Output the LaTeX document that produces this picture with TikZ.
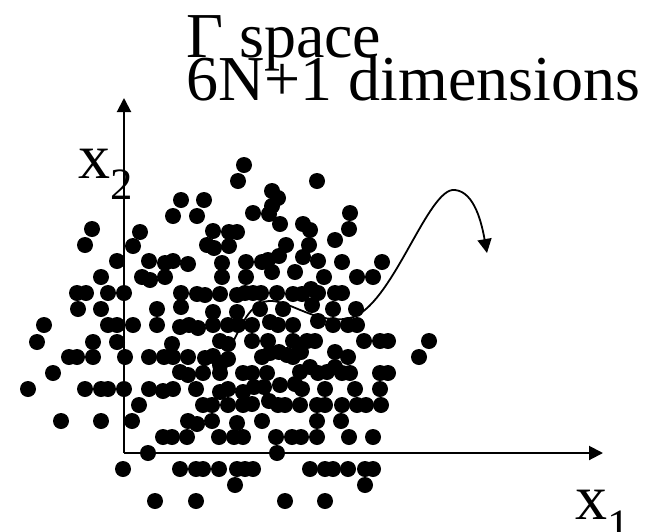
\documentclass[tikz,border=0pt]{standalone}
\usepackage{fontspec}
\setmainfont{Liberation Serif}
\usetikzlibrary{arrows.meta}

\begin{document}
\begin{tikzpicture}[
  x=1pt,y=-1pt,
  font=\fontsize{64}{64}\selectfont,
  particle/.style={fill=black},
  axis/.style={line width=2pt,-{Triangle[length=14pt,width=14pt]}},
  traj/.style={line width=1.8pt,-{Triangle[length=14pt,width=14pt]}}]
\useasboundingbox (0,0) rectangle (653,531);
% labels
\node[anchor=base west,inner sep=0pt] (title) at (186,57) {Γ space};
\node[anchor=base west,inner sep=0pt] (dims) at (186,100) {6N+1 dimensions};
\node[anchor=base west,inner sep=0pt] (xtwo) at (78,178) {x\textsubscript{2}};
\node[anchor=base west,inner sep=0pt] (xone) at (575,519) {x\textsubscript{1}};
% axes
\coordinate (origin) at (124,453);
\coordinate (ytip) at (124,98);
\coordinate (xtip) at (603,453);
\draw[axis] (origin) -- (ytip);
\draw[axis] (origin) -- (xtip);
% phase points, row by row
\foreach \p in {(244,165),(238,181),(317,181),(272,191),(278,198),(181,200),(204,200),
  (173,216),(197,216),(253,213),(272,206),(269,214),(350,213),
  (92,229),(140,232),(213,231),(229,232),(237,232),(280,224),(303,224),(310,230),(349,229),
  (85,245),(133,246),(207,245),(214,248),(229,246),(286,245),(309,245),(335,240)}
  \fill[particle] \p circle[radius=8pt];
\foreach \p in {(117,261),(149,261),(165,263),(173,261),(188,264),(222,263),(246,262),
  (262,262),(268,260),(279,256),(303,257),(318,261),(342,262),(382,262),
  (101,277),(142,277),(150,280),(165,277),(222,277),(246,277),(272,272),(295,272),
  (324,277),(357,277),(373,277)}
  \fill[particle] \p circle[radius=8pt];
\foreach \p in {(77,293),(86,293),(108,293),(124,293),(181,293),(197,294),(205,295),
  (220,294),(237,295),(245,293),(253,293),(261,293),(277,293),(293,294),(302,294),
  (311,289),(318,293),(335,293),(342,293),
  (78,309),(101,309),(157,309),(181,307),(213,312),(237,312),(260,309),(283,309),
  (312,305),(333,309),(356,309)}
  \fill[particle] \p circle[radius=8pt];
\foreach \p in {(44,325),(108,325),(117,325),(133,325),(157,325),(180,327),(189,325),
  (198,328),(213,325),(228,325),(238,325),(252,325),(270,322),(278,325),(293,325),
  (318,321),(333,325),(348,325),(357,325),
  (37,342),(93,342),(117,342),(172,344),(220,341),(228,344),(252,341),(268,341),
  (293,341),(307,341),(315,341),(364,341),(380,341),(388,341),(429,341)}
  \fill[particle] \p circle[radius=8pt];
\foreach \p in {(69,357),(77,357),(93,357),(125,357),(149,357),(164,357),(173,357),
  (188,357),(205,358),(213,356),(228,359),(220,365),(262,357),(270,353),(279,352),
  (287,355),(293,357),(301,352),(335,352),(348,357),(419,357),
  (53,373),(180,372),(188,375),(203,373),(220,373),(243,373),(252,373),(267,373),
  (300,372),(310,367),(318,373),(327,372),(335,367),(342,373),(350,373),(380,373),(388,373)}
  \fill[particle] \p circle[radius=8pt];
\foreach \p in {(28,389),(85,389),(101,389),(108,389),(124,389),(149,389),(163,391),
  (173,389),(196,389),(220,392),(228,389),(243,392),(254,387),(264,387),(280,385),
  (295,384),(302,389),(325,389),(355,389),(380,389),
  (139,405),(203,405),(212,405),(228,405),(243,405),(252,404),(269,401),(278,405),
  (285,405),(300,405),(317,405),(325,405),(342,405),(357,405),(366,405),(381,405)}
  \fill[particle] \p circle[radius=8pt];
\foreach \p in {(61,421),(101,421),(132,421),(188,421),(197,424),(212,421),(237,423),
  (262,421),(317,421),(341,421),
  (163,437),(172,437),(187,437),(219,437),(234,437),(243,437),(276,437),(292,437),
  (301,437),(317,437),(349,437),(373,437),
  (148,453),(277,453),
  (123,469),(180,469),(196,469),(203,469),(219,469),(237,469),(245,469),(253,469),
  (310,469),(325,469),(333,469),(348,469),(365,469),(373,469),
  (235,485),(365,485),
  (155,501),(196,501),(285,501),(325,501)}
  \fill[particle] \p circle[radius=8pt];
% trajectory
\coordinate (trjstart) at (233,342);
\coordinate (trjend) at (487,253);
\draw[traj] (trjstart) .. controls (243,322) and (252,300) .. (272,301)
  .. controls (292,302) and (318,325) .. (350,318)
  .. controls (392,308) and (428,186) .. (455,190)
  .. controls (475,192) and (482,225) .. (trjend);
\end{tikzpicture}
\end{document}
